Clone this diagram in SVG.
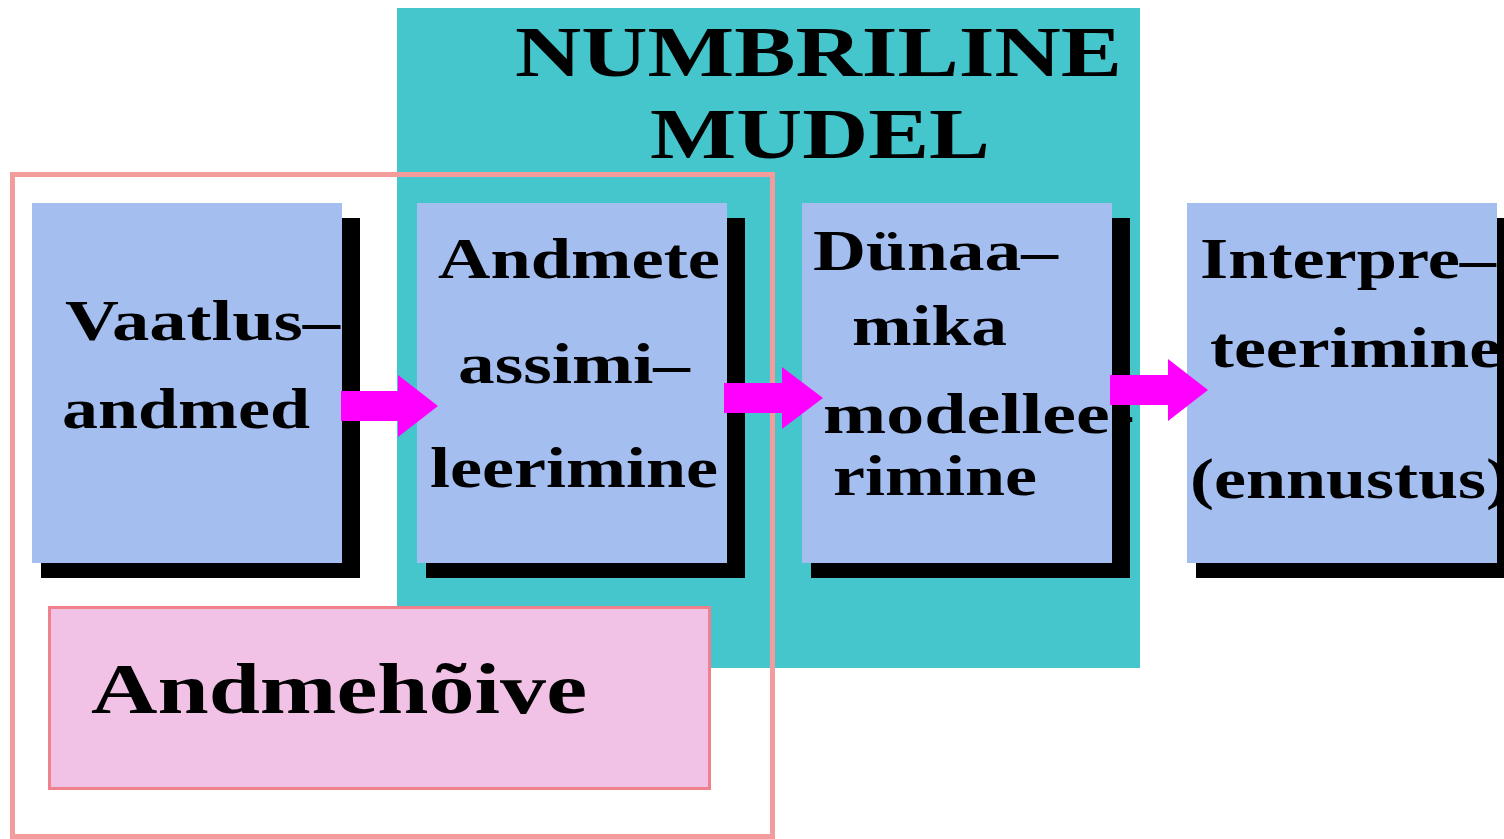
<svg xmlns="http://www.w3.org/2000/svg" width="1504" height="839" viewBox="0 0 1504 839">
  <style>
    .lbl { font-family: "Liberation Serif", "Times New Roman", serif; font-weight: bold; fill: #000; }
    .box { font-size: 58px; }
    .big { font-size: 72px; }
    .card { fill: #a4bef0; }
    .shadow { fill: #000; }
    .flow { fill: #ff00ff; }
  </style>

  <rect x="0" y="0" width="1504" height="839" fill="#ffffff"/>

  <!-- numerical model area -->
  <g id="numbriline-mudel">
    <rect x="397" y="8" width="743" height="660" fill="#44c6cc"/>
    <text class="lbl big" x="515" y="76" textLength="607" lengthAdjust="spacingAndGlyphs">NUMBRILINE</text>
    <text class="lbl big" x="650" y="158" textLength="340" lengthAdjust="spacingAndGlyphs">MUDEL</text>
  </g>

  <!-- data acquisition frame -->
  <g id="andmehoive-frame">
    <rect x="12.5" y="174.5" width="760" height="662" fill="none" stroke="#f29c9c" stroke-width="5"/>
  </g>

  <g id="vaatlusandmed">
    <rect class="shadow" x="41" y="218" width="319" height="360"/>
    <rect class="card" x="32" y="203" width="310" height="360"/>
    <text class="lbl box" x="65" y="340" textLength="275" lengthAdjust="spacingAndGlyphs">Vaatlus–</text>
    <text class="lbl box" x="62" y="428" textLength="248" lengthAdjust="spacingAndGlyphs">andmed</text>
  </g>

  <g id="andmete-assimileerimine">
    <rect class="shadow" x="426" y="218" width="319" height="360"/>
    <rect class="card" x="417" y="203" width="310" height="360"/>
    <text class="lbl box" x="438" y="278" textLength="282" lengthAdjust="spacingAndGlyphs">Andmete</text>
    <text class="lbl box" x="458" y="383" textLength="232" lengthAdjust="spacingAndGlyphs">assimi–</text>
    <text class="lbl box" x="430" y="487" textLength="288" lengthAdjust="spacingAndGlyphs">leerimine</text>
  </g>

  <g id="dunaamika-modelleerimine">
    <rect class="shadow" x="811" y="218" width="319" height="360"/>
    <rect class="card" x="802" y="203" width="310" height="360"/>
    <text class="lbl box" x="813" y="270" textLength="245" lengthAdjust="spacingAndGlyphs">Dünaa–</text>
    <text class="lbl box" x="852" y="345" textLength="155" lengthAdjust="spacingAndGlyphs">mika</text>
    <text class="lbl box" x="823" y="433" textLength="312" lengthAdjust="spacingAndGlyphs">modellee-</text>
    <text class="lbl box" x="833" y="495" textLength="204" lengthAdjust="spacingAndGlyphs">rimine</text>
  </g>

  <g id="interpreteerimine">
    <rect class="shadow" x="1196" y="218" width="319" height="360"/>
    <rect class="card" x="1187" y="203" width="310" height="360"/>
    <text class="lbl box" x="1200" y="278" textLength="296" lengthAdjust="spacingAndGlyphs">Interpre–</text>
    <text class="lbl box" x="1210" y="367" textLength="291" lengthAdjust="spacingAndGlyphs">teerimine</text>
    <text class="lbl box" x="1190" y="498" textLength="320" lengthAdjust="spacingAndGlyphs">(ennustus)</text>
  </g>

  <g id="andmehoive">
    <rect x="49.5" y="607.5" width="660" height="181" fill="#f2c2e6" stroke="#f0808c" stroke-width="3"/>
    <text class="lbl big" x="91" y="713" textLength="496" lengthAdjust="spacingAndGlyphs">Andmehõive</text>
  </g>

  <!-- block arrows between the stages -->
  <g id="connectors">
    <polygon class="flow" points="341,391 398,391 398,375 438,406 398,437 398,421 341,421"/>
    <polygon class="flow" points="724,383 782,383 782,367 823,398 782,429 782,413 724,413"/>
    <polygon class="flow" points="1110,375 1168,375 1168,359 1208,390 1168,421 1168,405 1110,405"/>
  </g>
</svg>
